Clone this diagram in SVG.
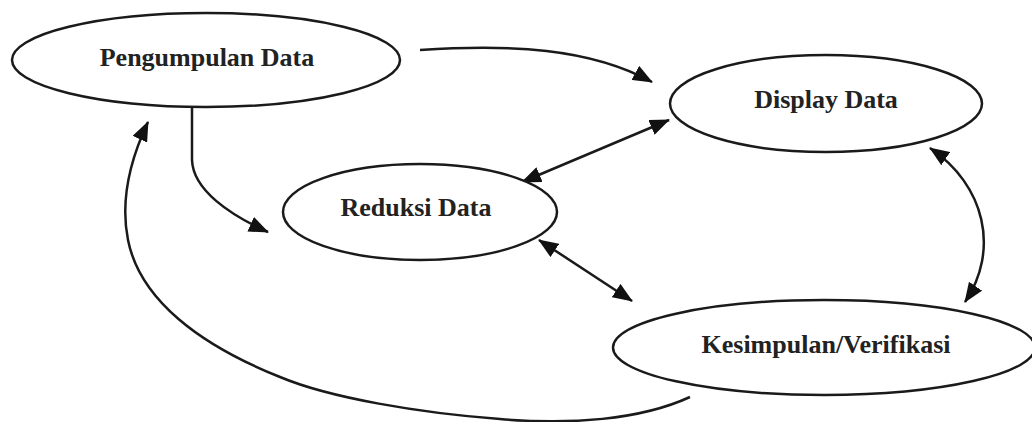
<svg xmlns="http://www.w3.org/2000/svg" width="1032" height="422" viewBox="0 0 1032 422">
  <style>
    .node ellipse { fill: #ffffff; stroke: #1a1a1a; stroke-width: 2.5; }
    .node text { font-family: "Liberation Serif", "Times New Roman", serif; font-weight: bold; font-size: 26px; fill: #222222; text-anchor: middle; }
    .edge { fill: none; stroke: #1a1a1a; stroke-width: 2.5; }
  </style>
  <defs>
    <marker id="arr" markerUnits="userSpaceOnUse" markerWidth="20" markerHeight="16" refX="19" refY="8" orient="auto-start-reverse" viewBox="0 0 20 16">
      <path d="M0,0 L20,8 L0,16 z" fill="#111111"/>
    </marker>
  </defs>
  <rect width="1032" height="422" fill="#ffffff"/>

  <g id="connectors">
    <path class="edge" d="M420,50 C510,44 590,48 652,82" marker-end="url(#arr)"/>
    <path class="edge" d="M192,104 L192,160 C193,190 230,215 268,232" marker-end="url(#arr)"/>
    <path class="edge" d="M522,182 L669,120" marker-start="url(#arr)" marker-end="url(#arr)"/>
    <path class="edge" d="M539,240 L632,301" marker-start="url(#arr)" marker-end="url(#arr)"/>
    <path class="edge" d="M930,148 C985,185 1000,250 965,302" marker-start="url(#arr)" marker-end="url(#arr)"/>
    <path class="edge" d="M690,397 C640,420 570,425 500,419 C420,413 330,398 280,377 C200,345 140,300 128,240 C120,200 130,160 148,122" marker-end="url(#arr)"/>
  </g>

  <g id="pengumpulan" class="node">
    <ellipse cx="206" cy="60" rx="194" ry="47"/>
    <text x="207" y="66">Pengumpulan Data</text>
  </g>
  <g id="display" class="node">
    <ellipse cx="826" cy="103.5" rx="156" ry="48.5"/>
    <text x="826" y="108">Display Data</text>
  </g>
  <g id="reduksi" class="node">
    <ellipse cx="420" cy="212" rx="137" ry="48"/>
    <text x="416" y="216">Reduksi Data</text>
  </g>
  <g id="kesimpulan" class="node">
    <ellipse cx="824" cy="347.5" rx="211" ry="47.5"/>
    <text x="826" y="353">Kesimpulan/Verifikasi</text>
  </g>
</svg>
